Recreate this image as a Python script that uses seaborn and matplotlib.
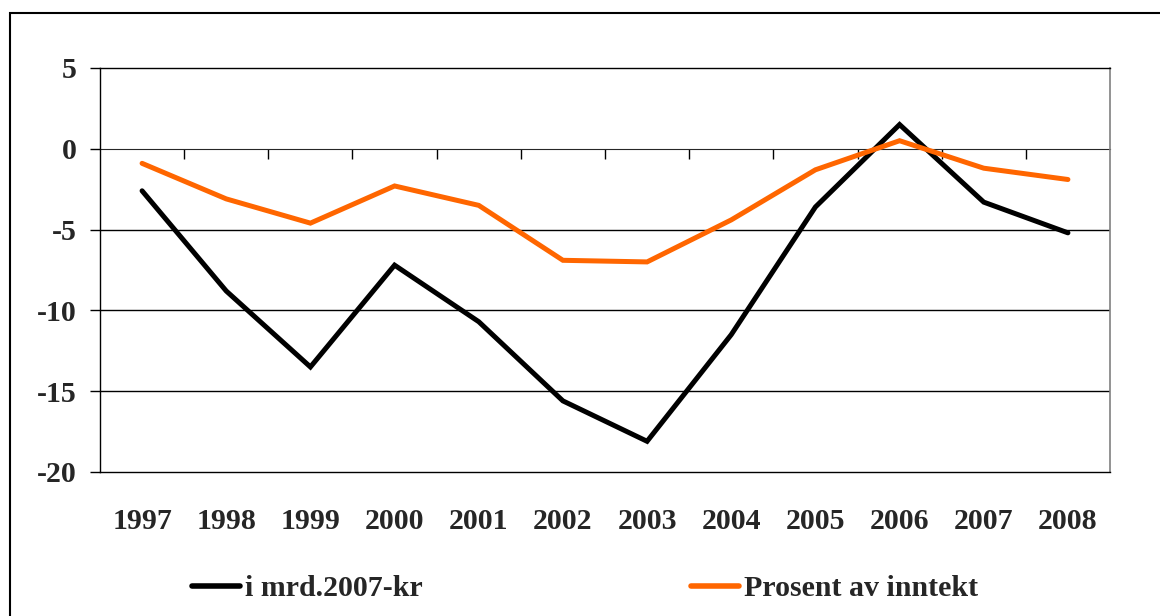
import pandas as pd
import matplotlib.pyplot as plt
import seaborn as sns
from matplotlib.patches import Rectangle

years = ["1997", "1998", "1999", "2000", "2001", "2002",
         "2003", "2004", "2005", "2006", "2007", "2008"]
mrd_kr = [-2.6, -8.8, -13.5, -7.2, -10.7, -15.6, -18.1, -11.5, -3.6, 1.5, -3.3, -5.2]
prosent = [-0.9, -3.1, -4.6, -2.3, -3.5, -6.9, -7.0, -4.4, -1.3, 0.5, -1.2, -1.9]
series_names = ["i mrd.2007-kr", "Prosent av inntekt"]
colors = ["#000000", "#FF6600"]

df = pd.DataFrame({
    "pos": list(range(len(years))) * 2,
    "value": mrd_kr + prosent,
    "serie": [series_names[0]] * len(years) + [series_names[1]] * len(years),
})

sns.set_style("white")
plt.rcParams["font.family"] = ["Liberation Serif", "DejaVu Serif"]
plt.rcParams["font.weight"] = "bold"
plt.rcParams["font.size"] = 21.5

fig = plt.figure(figsize=(11.6, 6.16), dpi=100)
ax = fig.add_axes([100 / 1160, 1 - 472 / 616, 1010 / 1160, 404 / 616])

sns.lineplot(data=df, x="pos", y="value", hue="serie", palette=colors,
             linewidth=3.6, ax=ax, legend=False, sort=False,
             solid_capstyle="round", solid_joinstyle="miter")

ax.set_xlim(-0.5, len(years) - 0.5)
ax.set_ylim(-20, 5)
ax.set_yticks([-20, -15, -10, -5, 0, 5])
ax.set_yticklabels(["-20", "-15", "-10", "-5", "0", "5"], fontweight="bold")
ax.tick_params(axis="y", direction="out", length=7, width=1, color="black", pad=9.5, left=True)
for v in [-15, -10, -5]:
    ax.axhline(v, color="black", lw=1, zorder=0)

# year labels under the plot area, no tick marks there
ax.set_xticks(range(len(years)))
ax.set_xticklabels(years, fontweight="bold")
ax.tick_params(axis="x", length=0, pad=26)
ax.set_xlabel("")
ax.set_ylabel("")

for s in ["left", "top", "bottom"]:
    ax.spines[s].set_color("black")
    ax.spines[s].set_linewidth(1)
ax.spines["right"].set_color("#808080")
ax.spines["right"].set_linewidth(1.2)

# zero axis with tick marks between categories
zero = ax.secondary_xaxis(20 / 25)
zero.set_xticks([i + 0.5 for i in range(len(years) - 1)])
zero.set_xticklabels([])
zero.tick_params(direction="in", length=7, width=1, color="black")
zero.spines["bottom"].set_color("#808080")
zero.spines["bottom"].set_linewidth(1.5)

handles = [plt.Line2D([], [], color=c, lw=4, solid_capstyle="round") for c in colors]
fig.legend(handles, series_names, loc="center left",
           bbox_to_anchor=(192 / 1160, 1 - 589 / 616), ncol=2, frameon=False,
           borderpad=0, borderaxespad=0, handlelength=1.6, handletextpad=0.17,
           columnspacing=9.0, prop={"family": "Liberation Serif", "weight": "bold", "size": 21.5})

fig.patches.append(Rectangle((10 / 1160, -0.1), 1.2, 1.1 - 13 / 616,
                             transform=fig.transFigure, fill=False,
                             edgecolor="black", lw=1.5))

fig.savefig("out.png", dpi=100)
